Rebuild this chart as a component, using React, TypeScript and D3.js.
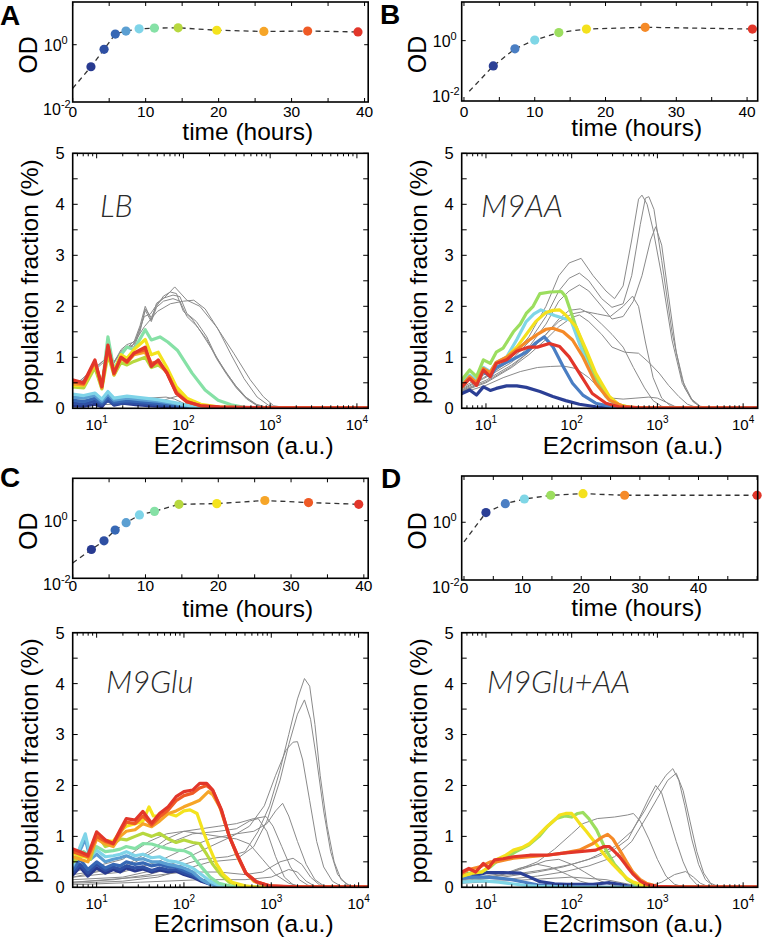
import React from "react";
import * as d3 from "d3";

type Pt = [number, number];

// ---------- growth curves: time (hours) and OD ----------
const lbTime = [2.5, 4.3, 5.84, 7.3, 9.1, 11.2, 14.45, 19.75, 26.2, 32.2, 39.1];
const lbOD = [0.17, 0.69, 2.36, 3.0, 3.6, 3.8, 3.9, 3.2, 2.9, 3.0, 2.8];
const lbOrigin = [0, 0.03];

const m9aaTime = [4.14, 7.2, 10.0, 13.4, 17.3, 25.6, 40.75];
const m9aaOD = [0.125, 0.51, 1.05, 1.95, 2.6, 3.0, 2.6];
const m9aaOrigin = [0.75, 0.0156];

const m9gluTime = [2.57, 4.3, 5.83, 7.34, 9.17, 11.24, 14.6, 19.8, 26.4, 32.4, 39.3];
const m9gluOD = [0.1, 0.2, 0.47, 0.85, 1.58, 2.1, 3.7, 3.9, 5.0, 4.25, 3.7];
const m9gluOrigin = [0, 0.034];

const m9gluaaTime = [3.75, 7.05, 10.3, 14.8, 20.3, 27.4, 50.0];
const m9gluaaOD = [2.16, 4.4, 6.4, 8.6, 9.8, 8.6, 8.6];
const m9gluaaOrigin = [0, 0.21];

const timeTickLabels = [0, 10, 20, 30, 40];
const fracTickLabels = [0, 1, 2, 3, 4, 5];
const e2Decades = [1, 2, 3, 4];

const pal11 = ["#283a90", "#2e4fa3", "#3768b5", "#5b9fd2", "#7fd4e8", "#86e1a6", "#b7d83f", "#f4e31d", "#f6a528", "#ef5a25", "#e2362a"];
const pal7 = ["#2b3f95", "#4a7ec3", "#7fd6e6", "#9cde5f", "#f4e11d", "#f58a28", "#e2362a"];

// ---------- histograms: [log10 E2crimson, population fraction %] ----------
const lbColored: Pt[][] = [
  [[0.72,0.05],[0.85,0.04],[0.98,0.08],[1.06,0.03],[1.13,0.18],[1.2,0.06],[1.3,0.1],[1.45,0.07],[1.6,0.05],[1.8,0.03],[2.0,0.01],[2.3,0],[4.13,0]],
  [[0.72,0.1],[0.85,0.08],[0.98,0.14],[1.06,0.07],[1.13,0.15],[1.2,0.08],[1.35,0.11],[1.5,0.09],[1.7,0.07],[1.9,0.04],[2.1,0.01],[2.4,0],[4.13,0]],
  [[0.72,0.16],[0.85,0.13],[0.98,0.2],[1.06,0.1],[1.13,0.22],[1.2,0.12],[1.35,0.15],[1.5,0.13],[1.7,0.1],[1.9,0.06],[2.1,0.02],[2.4,0],[4.13,0]],
  [[0.72,0.22],[0.85,0.2],[0.98,0.25],[1.06,0.14],[1.13,0.28],[1.2,0.16],[1.35,0.2],[1.5,0.17],[1.7,0.14],[1.9,0.09],[2.1,0.03],[2.4,0.01],[4.13,0]],
  [[0.72,0.28],[0.85,0.25],[0.98,0.3],[1.06,0.18],[1.13,0.33],[1.2,0.2],[1.35,0.24],[1.5,0.21],[1.7,0.17],[1.9,0.11],[2.1,0.04],[2.4,0.01],[4.13,0]],
  [[0.72,0.45],[0.85,0.42],[0.98,0.85],[1.06,0.4],[1.13,1.4],[1.2,0.75],[1.28,1.05],[1.35,1.2],[1.43,1.15],[1.56,1.54],[1.63,1.34],[1.73,1.4],[1.82,1.3],[1.93,1.14],[2.1,0.69],[2.25,0.36],[2.4,0.16],[2.55,0.07],[2.7,0.02],[2.9,0],[4.13,0]],
  [[0.72,0.42],[0.85,0.4],[0.98,0.8],[1.06,0.38],[1.13,1.05],[1.2,0.65],[1.28,0.9],[1.35,0.85],[1.43,0.92],[1.56,1.0],[1.63,0.8],[1.71,0.85],[1.81,0.72],[1.92,0.4],[2.04,0.18],[2.2,0.06],[2.4,0.02],[2.7,0],[4.13,0]],
  [[0.72,0.45],[0.85,0.45],[0.98,0.88],[1.06,0.45],[1.13,1.12],[1.2,0.72],[1.28,1.05],[1.35,0.98],[1.43,1.15],[1.56,1.35],[1.63,1.05],[1.71,1.1],[1.81,0.8],[1.92,0.42],[2.04,0.2],[2.2,0.08],[2.4,0.03],[2.7,0.01],[4.13,0]],
  [[0.72,0.48],[0.85,0.46],[0.98,0.9],[1.06,0.4],[1.13,1.18],[1.2,0.66],[1.28,0.98],[1.35,0.9],[1.43,1.05],[1.56,1.1],[1.63,0.85],[1.71,0.9],[1.81,0.7],[1.92,0.32],[2.04,0.14],[2.2,0.05],[2.4,0.02],[2.7,0.01],[4.13,0]],
  [[0.72,0.52],[0.85,0.48],[0.98,0.92],[1.06,0.43],[1.13,1.2],[1.2,0.68],[1.28,1.0],[1.35,0.9],[1.43,1.08],[1.56,1.15],[1.63,0.88],[1.71,0.92],[1.81,0.7],[1.92,0.3],[2.04,0.13],[2.2,0.05],[2.4,0.02],[2.7,0.01],[4.13,0]],
  [[0.72,0.56],[0.85,0.5],[0.98,0.95],[1.06,0.42],[1.13,1.24],[1.2,0.69],[1.28,1.0],[1.35,0.92],[1.43,1.08],[1.56,1.2],[1.63,0.82],[1.71,0.95],[1.81,0.69],[1.92,0.29],[2.04,0.13],[2.2,0.05],[2.42,0.03],[2.96,0.01],[4.13,0.01]],
];
const lbGray: Pt[][] = [
  [[0.72,0.4],[0.98,0.8],[1.13,1.0],[1.2,0.9],[1.28,1.15],[1.35,1.25],[1.43,1.3],[1.5,1.62],[1.56,2.0],[1.63,1.73],[1.69,2.06],[1.77,2.16],[1.88,2.22],[1.96,2.19],[2.04,1.86],[2.15,1.7],[2.27,1.4],[2.38,1.0],[2.5,0.69],[2.61,0.42],[2.73,0.2],[2.84,0.07],[2.96,0.01],[4.13,0]],
  [[0.72,0.42],[0.98,0.78],[1.13,1.02],[1.2,0.92],[1.28,1.1],[1.35,1.2],[1.43,1.25],[1.5,1.55],[1.56,1.92],[1.63,1.7],[1.69,1.98],[1.77,2.1],[1.88,2.15],[1.96,2.1],[2.04,1.8],[2.15,1.62],[2.27,1.35],[2.38,0.98],[2.5,0.66],[2.61,0.4],[2.73,0.18],[2.84,0.06],[2.96,0.01],[4.13,0]],
  [[0.72,0.38],[0.98,0.75],[1.13,0.98],[1.2,0.88],[1.28,1.12],[1.35,1.22],[1.43,1.2],[1.5,1.5],[1.56,1.95],[1.63,1.78],[1.69,2.0],[1.77,2.2],[1.85,2.28],[1.92,2.25],[2.0,1.9],[2.1,1.75],[2.2,1.5],[2.35,1.1],[2.47,0.75],[2.6,0.45],[2.72,0.22],[2.84,0.08],[2.96,0.02],[4.13,0]],
  [[1.3,1.1],[1.45,1.35],[1.55,1.8],[1.62,1.85],[1.7,2.05],[1.8,2.2],[1.9,2.38],[2.04,2.12],[2.19,2.0],[2.38,1.6],[2.58,1.08],[2.77,0.56],[2.92,0.23],[3.04,0.05],[3.2,0.01],[4.13,0]],
  [[1.4,1.2],[1.55,1.6],[1.7,1.9],[1.85,2.05],[2.0,2.1],[2.12,2.12],[2.25,1.95],[2.4,1.55],[2.55,1.05],[2.7,0.58],[2.85,0.22],[2.98,0.06],[3.1,0.01],[4.13,0]],
  [[0.72,0.15],[1.0,0.18],[1.3,0.2],[1.6,0.2],[1.8,0.22],[1.9,0.18],[2.0,0.1],[2.2,0.03],[2.5,0],[4.13,0]],
  [[0.72,0.1],[1.0,0.12],[1.4,0.12],[1.7,0.12],[1.85,0.2],[1.95,0.25],[2.05,0.15],[2.2,0.05],[2.4,0.01],[4.13,0]],
  [[0.72,0.05],[1.2,0.08],[1.6,0.1],[1.9,0.08],[2.1,0.03],[2.4,0],[4.13,0]],
];

const m9aaColored: Pt[][] = [
  [[0.72,0.29],[0.81,0.36],[0.89,0.26],[0.97,0.42],[1.05,0.35],[1.12,0.39],[1.24,0.44],[1.36,0.44],[1.47,0.41],[1.63,0.33],[1.78,0.23],[1.93,0.15],[2.09,0.08],[2.28,0.03],[2.47,0.01],[4.17,0.01]],
  [[0.72,0.45],[0.81,0.6],[0.89,0.5],[0.97,0.72],[1.05,0.62],[1.12,0.8],[1.24,0.9],[1.36,1.0],[1.47,1.1],[1.58,1.28],[1.68,1.4],[1.78,1.21],[1.9,0.82],[2.01,0.49],[2.13,0.26],[2.28,0.1],[2.47,0.03],[2.7,0.01],[4.17,0]],
  [[0.72,0.5],[0.81,0.65],[0.89,0.55],[0.97,0.8],[1.05,0.72],[1.12,0.9],[1.24,1.0],[1.36,1.35],[1.47,1.7],[1.56,1.85],[1.64,1.93],[1.8,1.82],[1.93,1.75],[1.99,1.73],[2.09,1.27],[2.17,0.95],[2.28,0.56],[2.4,0.23],[2.51,0.07],[2.7,0.01],[4.17,0]],
  [[0.72,0.56],[0.81,0.75],[0.89,0.62],[0.97,0.95],[1.05,0.88],[1.12,1.1],[1.2,1.18],[1.32,1.5],[1.4,1.65],[1.47,1.86],[1.55,2.0],[1.63,2.25],[1.75,2.28],[1.88,2.29],[1.93,2.19],[2.05,1.6],[2.17,1.08],[2.28,0.62],[2.4,0.26],[2.55,0.07],[2.7,0.01],[4.17,0]],
  [[0.72,0.42],[0.81,0.6],[0.89,0.5],[0.97,0.75],[1.05,0.7],[1.12,0.88],[1.24,1.0],[1.36,1.2],[1.47,1.45],[1.58,1.7],[1.7,1.88],[1.78,1.92],[1.86,1.93],[1.93,1.83],[2.05,1.6],[2.17,1.14],[2.28,0.69],[2.44,0.23],[2.55,0.07],[2.7,0.01],[4.17,0]],
  [[0.72,0.45],[0.81,0.62],[0.89,0.5],[0.97,0.78],[1.05,0.7],[1.12,0.9],[1.24,1.0],[1.36,1.15],[1.47,1.3],[1.6,1.45],[1.7,1.55],[1.78,1.57],[1.9,1.5],[2.01,1.34],[2.13,1.01],[2.28,0.49],[2.44,0.16],[2.6,0.04],[2.8,0.01],[4.17,0]],
  [[0.72,0.42],[0.81,0.58],[0.89,0.45],[0.97,0.75],[1.05,0.62],[1.12,0.88],[1.24,0.95],[1.36,1.12],[1.5,1.2],[1.6,1.2],[1.74,1.27],[1.86,1.21],[1.97,1.01],[2.09,0.69],[2.24,0.29],[2.4,0.1],[2.55,0.03],[2.8,0.01],[4.17,0.01]],
];
const m9aaGray: Pt[][] = [
  [[0.72,0.4],[0.97,0.65],[1.12,0.8],[1.3,1.0],[1.5,1.4],[1.7,2.0],[1.85,2.6],[1.97,2.85],[2.11,2.94],[2.25,2.6],[2.4,2.3],[2.5,2.15],[2.6,2.4],[2.7,3.3],[2.78,4.1],[2.82,4.18],[2.88,4.0],[2.95,3.5],[3.05,2.6],[3.17,1.34],[3.29,0.49],[3.4,0.16],[3.5,0.03],[3.7,0],[4.17,0]],
  [[0.72,0.38],[0.97,0.6],[1.12,0.75],[1.3,0.95],[1.5,1.3],[1.7,1.8],[1.85,2.3],[1.97,2.55],[2.09,2.65],[2.2,2.5],[2.35,2.15],[2.47,1.98],[2.6,2.05],[2.7,2.6],[2.8,3.6],[2.86,4.12],[2.9,4.15],[2.96,3.9],[3.05,2.9],[3.17,1.5],[3.29,0.55],[3.4,0.18],[3.5,0.04],[3.7,0],[4.17,0]],
  [[0.72,0.36],[0.97,0.58],[1.12,0.72],[1.3,0.9],[1.5,1.2],[1.7,1.65],[1.85,2.1],[1.97,2.3],[2.09,2.42],[2.2,2.3],[2.35,2.0],[2.47,1.75],[2.6,1.8],[2.72,2.1],[2.82,2.6],[2.92,3.3],[2.98,3.56],[3.05,3.2],[3.13,2.2],[3.22,1.1],[3.32,0.4],[3.42,0.12],[3.52,0.02],[3.7,0],[4.17,0]],
  [[0.72,0.35],[1.0,0.55],[1.3,0.85],[1.5,1.1],[1.7,1.45],[1.85,1.7],[2.0,1.85],[2.15,1.9],[2.3,1.85],[2.45,1.8],[2.6,2.0],[2.71,2.2],[2.78,2.0],[2.86,1.3],[2.95,0.6],[3.05,0.2],[3.15,0.05],[3.3,0],[4.17,0]],
  [[0.72,0.33],[1.0,0.5],[1.3,0.8],[1.5,1.05],[1.7,1.35],[1.85,1.6],[2.0,1.78],[2.09,1.83],[2.2,1.7],[2.35,1.45],[2.47,1.2],[2.62,1.1],[2.78,1.08],[2.9,0.9],[3.02,0.69],[3.13,0.45],[3.25,0.23],[3.35,0.08],[3.45,0.02],[3.6,0],[4.17,0]],
  [[0.72,0.34],[1.0,0.52],[1.3,0.82],[1.5,1.1],[1.7,1.45],[1.85,1.75],[1.97,1.92],[2.1,1.95],[2.22,1.85],[2.35,1.65],[2.47,1.45],[2.6,1.2],[2.72,0.8],[2.85,0.4],[2.95,0.15],[3.05,0.04],[3.2,0],[4.17,0]],
  [[0.72,0.3],[1.0,0.45],[1.2,0.6],[1.4,0.72],[1.6,0.8],[1.75,0.82],[1.9,0.83],[2.05,0.78],[2.2,0.6],[2.35,0.35],[2.47,0.2],[2.6,0.18],[2.75,0.2],[2.9,0.22],[3.0,0.2],[3.1,0.12],[3.2,0.04],[3.3,0.01],[4.17,0]],
];

const m9gluColored: Pt[][] = [
  [[0.73,0.25],[0.81,0.4],[0.9,0.22],[1.0,0.38],[1.1,0.28],[1.19,0.35],[1.27,0.3],[1.34,0.38],[1.44,0.32],[1.53,0.36],[1.63,0.3],[1.72,0.34],[1.82,0.3],[1.91,0.32],[2.0,0.25],[2.1,0.2],[2.2,0.12],[2.3,0.06],[2.4,0.02],[2.6,0],[4.12,0]],
  [[0.73,0.3],[0.81,0.45],[0.9,0.28],[1.0,0.45],[1.1,0.33],[1.19,0.4],[1.27,0.35],[1.34,0.42],[1.44,0.38],[1.53,0.4],[1.63,0.33],[1.72,0.38],[1.82,0.34],[1.91,0.35],[2.0,0.28],[2.1,0.22],[2.2,0.14],[2.3,0.07],[2.4,0.02],[2.6,0],[4.12,0]],
  [[0.73,0.35],[0.81,0.55],[0.9,0.35],[1.0,0.5],[1.1,0.38],[1.19,0.45],[1.27,0.42],[1.34,0.5],[1.44,0.45],[1.53,0.48],[1.63,0.42],[1.72,0.45],[1.82,0.4],[1.91,0.4],[2.0,0.33],[2.1,0.26],[2.2,0.15],[2.3,0.07],[2.4,0.02],[2.6,0],[4.12,0]],
  [[0.73,0.42],[0.87,0.95],[0.93,0.55],[1.0,0.65],[1.1,0.5],[1.19,0.55],[1.27,0.58],[1.34,0.62],[1.44,0.55],[1.53,0.56],[1.63,0.5],[1.72,0.5],[1.82,0.45],[1.91,0.42],[2.0,0.38],[2.1,0.3],[2.2,0.15],[2.3,0.06],[2.45,0.01],[2.6,0],[4.12,0]],
  [[0.73,0.45],[0.87,1.05],[0.93,0.6],[1.0,0.73],[1.1,0.6],[1.19,0.62],[1.27,0.65],[1.34,0.7],[1.44,0.62],[1.53,0.65],[1.63,0.58],[1.72,0.6],[1.82,0.52],[1.91,0.5],[2.0,0.45],[2.1,0.38],[2.2,0.25],[2.3,0.12],[2.4,0.04],[2.55,0.01],[4.12,0]],
  [[0.73,0.55],[0.85,0.7],[0.93,0.6],[1.0,0.8],[1.1,0.7],[1.19,0.72],[1.27,0.75],[1.34,0.8],[1.44,0.76],[1.53,0.86],[1.63,0.85],[1.72,0.8],[1.82,0.76],[1.91,0.73],[2.0,0.72],[2.08,0.66],[2.15,0.5],[2.3,0.2],[2.4,0.08],[2.55,0.02],[2.7,0],[4.12,0]],
  [[0.73,0.5],[0.85,0.65],[0.93,0.55],[1.0,1.05],[1.1,0.8],[1.19,0.85],[1.27,0.95],[1.34,0.93],[1.44,1.0],[1.53,1.06],[1.63,1.0],[1.72,1.06],[1.82,0.95],[1.91,0.88],[2.0,0.93],[2.1,0.88],[2.18,0.86],[2.26,0.65],[2.33,0.45],[2.42,0.25],[2.52,0.1],[2.65,0.03],[2.8,0],[4.12,0]],
  [[0.73,0.67],[0.81,0.62],[0.9,0.58],[1.0,1.05],[1.1,0.92],[1.19,0.9],[1.27,1.1],[1.34,1.2],[1.44,1.25],[1.53,1.3],[1.6,1.58],[1.65,1.4],[1.72,1.4],[1.82,1.45],[1.91,1.4],[2.0,1.5],[2.07,1.52],[2.15,1.45],[2.22,1.1],[2.3,0.75],[2.37,0.47],[2.45,0.25],[2.55,0.1],[2.7,0.03],[2.85,0],[4.12,0]],
  [[0.73,0.6],[0.81,0.55],[0.9,0.5],[1.0,0.95],[1.1,0.85],[1.19,0.8],[1.27,1.0],[1.34,1.1],[1.44,1.13],[1.53,1.25],[1.63,1.19],[1.72,1.3],[1.82,1.45],[1.91,1.5],[2.0,1.58],[2.1,1.65],[2.18,1.71],[2.28,1.88],[2.33,1.82],[2.41,1.58],[2.5,1.1],[2.6,0.65],[2.7,0.3],[2.8,0.12],[2.95,0.03],[3.1,0.01],[4.12,0]],
  [[0.73,0.7],[0.81,0.65],[0.9,0.6],[1.0,1.0],[1.1,0.9],[1.19,0.85],[1.27,1.08],[1.34,1.28],[1.44,1.25],[1.53,1.4],[1.63,1.22],[1.72,1.38],[1.82,1.52],[1.91,1.7],[2.0,1.8],[2.1,1.85],[2.18,1.95],[2.26,2.0],[2.33,1.9],[2.43,1.5],[2.52,1.0],[2.62,0.6],[2.71,0.28],[2.83,0.11],[2.98,0.03],[3.2,0.01],[4.12,0]],
  [[0.73,0.75],[0.81,0.7],[0.9,0.63],[1.0,1.09],[1.1,0.93],[1.19,0.86],[1.27,1.13],[1.34,1.35],[1.44,1.32],[1.53,1.49],[1.63,1.26],[1.72,1.45],[1.82,1.58],[1.91,1.78],[2.0,1.88],[2.1,1.91],[2.18,2.04],[2.26,2.04],[2.33,1.91],[2.43,1.52],[2.52,0.99],[2.62,0.6],[2.71,0.27],[2.83,0.11],[2.98,0.03],[3.3,0.01],[4.12,0.01]],
];
const m9gluGray: Pt[][] = [
  [[0.73,0.1],[1.2,0.15],[1.6,0.25],[1.9,0.4],[2.2,0.55],[2.5,0.6],[2.7,0.7],[2.85,1.1],[2.98,1.6],[3.1,2.3],[3.2,3.0],[3.3,3.7],[3.38,4.1],[3.44,3.95],[3.5,3.2],[3.56,2.2],[3.64,1.2],[3.72,0.5],[3.8,0.15],[3.9,0.03],[4.0,0],[4.12,0]],
  [[0.73,0.08],[1.3,0.12],[1.7,0.2],[2.0,0.35],[2.3,0.5],[2.6,0.55],[2.8,0.8],[2.95,1.3],[3.1,2.1],[3.2,2.8],[3.3,3.4],[3.38,3.68],[3.45,3.3],[3.52,2.5],[3.6,1.5],[3.68,0.7],[3.76,0.25],[3.86,0.06],[3.95,0],[4.12,0]],
  [[0.73,0.15],[1.3,0.2],[1.7,0.35],[2.0,0.55],[2.3,0.8],[2.55,1.0],[2.75,1.2],[2.92,1.6],[3.05,2.2],[3.17,2.7],[3.25,2.85],[3.3,2.86],[3.36,2.5],[3.44,1.7],[3.52,0.9],[3.6,0.4],[3.7,0.12],[3.8,0.02],[3.9,0],[4.12,0]],
  [[0.73,0.2],[1.3,0.3],[1.7,0.5],[2.0,0.75],[2.3,0.95],[2.6,1.05],[2.8,1.1],[2.95,1.25],[3.05,1.5],[3.13,1.65],[3.2,1.4],[3.3,0.9],[3.4,0.45],[3.5,0.15],[3.6,0.03],[3.7,0],[4.12,0]],
  [[0.73,0.25],[1.3,0.4],[1.6,0.7],[1.8,0.95],[2.0,1.1],[2.2,1.15],[2.4,1.2],[2.6,1.25],[2.8,1.35],[2.94,1.39],[3.02,1.2],[3.12,0.8],[3.22,0.4],[3.32,0.15],[3.42,0.04],[3.55,0],[4.12,0]],
  [[0.73,0.3],[1.3,0.55],[1.6,0.9],[1.8,1.05],[2.0,1.1],[2.2,1.05],[2.4,1.0],[2.6,0.95],[2.75,0.85],[2.9,0.55],[3.05,0.25],[3.2,0.08],[3.35,0.01],[4.12,0]],
  [[0.73,0.1],[1.5,0.2],[2.0,0.3],[2.4,0.3],[2.7,0.25],[2.9,0.3],[3.1,0.5],[3.25,0.57],[3.35,0.45],[3.45,0.2],[3.55,0.05],[3.7,0],[4.12,0]],
  [[0.73,0.05],[1.5,0.1],[2.2,0.15],[2.7,0.15],[3.0,0.2],[3.2,0.35],[3.3,0.3],[3.4,0.12],[3.5,0.02],[3.6,0],[4.12,0]],
  [[0.73,0.2],[1.4,0.45],[1.8,0.85],[2.1,1.05],[2.4,1.1],[2.6,1.15],[2.75,1.3],[2.85,1.35],[2.95,1.1],[3.05,0.6],[3.15,0.2],[3.25,0.05],[3.35,0],[4.12,0]],
];

const m9gluaaColored: Pt[][] = [
  [[0.72,0.24],[0.8,0.27],[0.9,0.24],[1.01,0.29],[1.2,0.29],[1.4,0.28],[1.51,0.2],[1.63,0.11],[1.8,0.07],[1.94,0.06],[2.1,0.06],[2.25,0.06],[2.44,0.09],[2.56,0.06],[2.71,0.01],[2.9,0],[4.17,0]],
  [[0.72,0.18],[0.85,0.2],[1.0,0.2],[1.15,0.18],[1.3,0.15],[1.45,0.1],[1.6,0.05],[1.8,0.02],[2.0,0.01],[2.3,0],[4.17,0]],
  [[0.72,0.1],[0.85,0.12],[1.0,0.12],[1.15,0.1],[1.3,0.07],[1.45,0.04],[1.6,0.02],[1.8,0.01],[2.0,0],[4.17,0]],
  [[0.72,0.22],[0.85,0.3],[0.95,0.3],[1.05,0.4],[1.12,0.5],[1.25,0.6],[1.35,0.7],[1.5,0.83],[1.62,1.0],[1.72,1.2],[1.82,1.35],[1.92,1.4],[2.0,1.38],[2.07,1.45],[2.13,1.47],[2.2,1.35],[2.29,1.13],[2.4,0.73],[2.5,0.45],[2.56,0.34],[2.65,0.15],[2.75,0.05],[2.9,0.01],[4.17,0]],
  [[0.72,0.22],[0.85,0.28],[0.95,0.3],[1.05,0.42],[1.12,0.54],[1.22,0.62],[1.32,0.73],[1.42,0.78],[1.51,0.86],[1.61,1.02],[1.71,1.19],[1.8,1.32],[1.86,1.42],[1.93,1.45],[2.0,1.45],[2.05,1.35],[2.09,1.26],[2.17,1.1],[2.25,0.93],[2.33,0.75],[2.4,0.6],[2.48,0.45],[2.56,0.31],[2.65,0.17],[2.71,0.11],[2.87,0.02],[3.0,0],[4.17,0]],
  [[0.72,0.27],[0.8,0.35],[0.93,0.4],[1.05,0.5],[1.12,0.5],[1.32,0.57],[1.51,0.6],[1.71,0.63],[1.9,0.67],[2.09,0.73],[2.25,0.86],[2.35,0.98],[2.42,1.04],[2.48,0.95],[2.56,0.73],[2.64,0.5],[2.71,0.31],[2.8,0.15],[2.87,0.08],[3.0,0.02],[3.1,0],[4.17,0]],
  [[0.72,0.3],[0.8,0.37],[0.88,0.3],[0.97,0.47],[1.03,0.38],[1.1,0.54],[1.2,0.56],[1.32,0.6],[1.51,0.63],[1.71,0.63],[1.9,0.67],[2.09,0.7],[2.28,0.73],[2.38,0.8],[2.44,0.8],[2.5,0.7],[2.56,0.6],[2.64,0.42],[2.71,0.27],[2.8,0.12],[2.87,0.06],[3.0,0.02],[3.2,0.01],[4.17,0.01]],
];
const m9gluaaGray: Pt[][] = [
  [[0.72,0.12],[1.2,0.2],[1.6,0.3],[1.9,0.4],[2.2,0.55],[2.5,0.8],[2.7,1.1],[2.85,1.5],[2.98,1.9],[3.1,2.2],[3.18,2.33],[3.25,2.1],[3.32,1.6],[3.4,0.95],[3.48,0.45],[3.56,0.15],[3.65,0.03],[3.8,0],[4.17,0]],
  [[0.72,0.1],[1.2,0.15],[1.6,0.22],[1.9,0.3],[2.2,0.42],[2.5,0.6],[2.7,0.9],[2.88,1.4],[3.0,1.75],[3.12,2.1],[3.22,2.24],[3.3,1.9],[3.38,1.3],[3.46,0.7],[3.54,0.28],[3.62,0.08],[3.72,0.01],[3.85,0],[4.17,0]],
  [[0.72,0.15],[1.3,0.25],[1.7,0.35],[2.0,0.45],[2.3,0.6],[2.5,0.75],[2.66,0.95],[2.8,1.4],[2.9,1.75],[2.98,2.0],[3.05,1.85],[3.13,1.4],[3.22,0.9],[3.3,0.5],[3.38,0.2],[3.46,0.05],[3.55,0],[4.17,0]],
  [[0.72,0.15],[1.3,0.3],[1.6,0.5],[1.8,0.75],[2.0,1.05],[2.13,1.25],[2.3,1.35],[2.5,1.38],[2.65,1.42],[2.72,1.45],[2.8,1.3],[2.9,0.95],[3.0,0.55],[3.1,0.22],[3.2,0.06],[3.3,0.01],[3.4,0],[4.17,0]],
  [[0.72,0.08],[1.5,0.15],[2.0,0.2],[2.4,0.15],[2.7,0.05],[2.9,0.02],[3.05,0.1],[3.2,0.25],[3.33,0.31],[3.42,0.2],[3.5,0.08],[3.6,0.01],[3.7,0],[4.17,0]],
  [[0.72,0.12],[1.2,0.25],[1.5,0.4],[1.7,0.52],[1.85,0.55],[2.0,0.45],[2.15,0.3],[2.3,0.15],[2.45,0.05],[2.6,0.01],[2.8,0],[4.17,0]],
  [[0.72,0.1],[1.1,0.2],[1.4,0.38],[1.6,0.45],[1.75,0.4],[1.95,0.25],[2.1,0.12],[2.3,0.03],[2.5,0],[4.17,0]],
];

const FONT = "'Liberation Sans', Arial, Helvetica, sans-serif";

function GrowthPanel(p: {
  x0: number; x1: number; y0: number; y1: number;
  tDom: [number, number]; odDom: [number, number];
  times: number[]; ods: number[]; origin: number[]; colors: string[];
  lowDy: number; xLabBase: number; timeBase: number;
  letter: string; letterX: number; letterY: number;
}) {
  const x = d3.scaleLinear().domain(p.tDom).range([p.x0, p.x1]);
  const y = d3.scaleLog().domain(p.odDom).range([p.y1, p.y0]);
  const pts: Pt[] = [[p.origin[0], p.origin[1]], ...p.times.map((t, i) => [t, p.ods[i]] as Pt)];
  const line = d3.line<Pt>().x((d) => x(d[0])).y((d) => y(d[1]));
  const ticks = d3.range(0, p.tDom[1] + 0.01, 5);
  const midY = (p.y0 + p.y1) / 2;
  return (
    <g fontFamily={FONT}>
      <text x={p.letterX} y={p.letterY} fontSize={28} fontWeight="bold">{p.letter}</text>
      <path d={line(pts) || ""} fill="none" stroke="#333" strokeWidth={1.3} strokeDasharray="5,4" />
      {pts.slice(1).map((d, i) => (
        <circle key={i} cx={x(d[0])} cy={y(d[1])} r={4.6} fill={p.colors[i]} />
      ))}
      {ticks.map((t) => (
        <g key={t}>
          <line x1={x(t)} x2={x(t)} y1={p.y1} y2={p.y1 - 4} stroke="#000" strokeWidth={1} />
          <line x1={x(t)} x2={x(t)} y1={p.y0} y2={p.y0 + 4} stroke="#000" strokeWidth={1} />
        </g>
      ))}
      <line x1={p.x0} x2={p.x0 + 4} y1={y(1)} y2={y(1)} stroke="#000" />
      <line x1={p.x1 - 4} x2={p.x1} y1={y(1)} y2={y(1)} stroke="#000" />
      <rect x={p.x0} y={p.y0} width={p.x1 - p.x0} height={p.y1 - p.y0} fill="none" stroke="#000" strokeWidth={1.6} />
      {timeTickLabels.map((t) => (
        <text key={t} x={x(t)} y={p.xLabBase} fontSize={15.5} textAnchor="middle">{t}</text>
      ))}
      <text x={p.x0 - 5} y={y(1) + 6} fontSize={16} textAnchor="end">
        10<tspan dy={-7} fontSize={11}>0</tspan>
      </text>
      <text x={p.x0 - 2} y={y(0.01) + p.lowDy} fontSize={16} textAnchor="end">
        10<tspan dy={-7} fontSize={11}>-2</tspan>
      </text>
      <text transform={`translate(${p.x0 - 44},${midY + 3}) rotate(-90)`} fontSize={25} textAnchor="middle" dy="0.35em">OD</text>
      <text x={p.x0 + 175} y={p.timeBase} fontSize={24.5} textAnchor="middle">time (hours)</text>
    </g>
  );
}

function HistPanel(p: {
  id: string; x0: number; x1: number; y0: number; y1: number;
  lxDom: [number, number]; grays: Pt[][]; colored: Pt[][]; colors: string[];
  name: string; nameX: number; nameY: number; e2Base: number;
}) {
  const x = d3.scaleLog().domain([Math.pow(10, p.lxDom[0]), Math.pow(10, p.lxDom[1])]).range([p.x0, p.x1]);
  const y = d3.scaleLinear().domain([0, 5]).range([p.y1, p.y0]);
  const line = d3.line<Pt>().x((d) => x(Math.pow(10, d[0]))).y((d) => y(d[1]));
  const minor: number[] = [];
  for (let k = 0; k <= 4; k++) for (let m = 1; m <= 9; m++) {
    const v = m * Math.pow(10, k);
    if (Math.log10(v) > p.lxDom[0] && Math.log10(v) < p.lxDom[1]) minor.push(v);
  }
  const yt = d3.range(0, 5.01, 0.5);
  const midY = (p.y0 + p.y1) / 2;
  return (
    <g fontFamily={FONT}>
      <defs>
        <clipPath id={p.id}>
          <rect x={p.x0} y={p.y0} width={p.x1 - p.x0} height={p.y1 - p.y0} />
        </clipPath>
      </defs>
      <g clipPath={`url(#${p.id})`}>
        {p.grays.map((c, i) => (
          <path key={"g" + i} d={line(c) || ""} fill="none" stroke="#8a8a8a" strokeWidth={1} strokeLinejoin="round" />
        ))}
        {p.colored.map((c, i) => (
          <path key={"c" + i} d={line(c) || ""} fill="none" stroke={p.colors[i]} strokeWidth={3.2} strokeLinejoin="round" strokeLinecap="round" />
        ))}
      </g>
      {minor.map((v) => {
        const big = Math.abs(Math.log10(v) - Math.round(Math.log10(v))) < 1e-9;
        const L = big ? 5 : 3;
        return (
          <g key={v}>
            <line x1={x(v)} x2={x(v)} y1={p.y1} y2={p.y1 - L} stroke="#000" />
            <line x1={x(v)} x2={x(v)} y1={p.y0} y2={p.y0 + L} stroke="#000" />
          </g>
        );
      })}
      {yt.map((v) => (
        <g key={v}>
          <line x1={p.x0} x2={p.x0 + 5} y1={y(v)} y2={y(v)} stroke="#000" />
          <line x1={p.x1 - 5} x2={p.x1} y1={y(v)} y2={y(v)} stroke="#000" />
        </g>
      ))}
      <rect x={p.x0} y={p.y0} width={p.x1 - p.x0} height={p.y1 - p.y0} fill="none" stroke="#000" strokeWidth={1.6} />
      {fracTickLabels.map((v) => (
        <text key={v} x={p.x0 - 8} y={y(v)} dy="0.36em" fontSize={16.5} textAnchor="end">{v}</text>
      ))}
      {e2Decades.map((k) => (
        <text key={k} x={x(Math.pow(10, k))} y={p.y1 + 22} fontSize={15} textAnchor="middle">
          10<tspan dy={-7} fontSize={10}>{k}</tspan>
        </text>
      ))}
      <text transform={`translate(${p.x0 - 43},${midY + 1}) rotate(-90)`} fontSize={24.5} textAnchor="middle" dy="0.35em">population fraction (%)</text>
      <text x={p.x0 + 171} y={p.e2Base} fontSize={24.5} textAnchor="middle">E2crimson (a.u.)</text>
      <text x={p.nameX} y={p.nameY} fontSize={31} fontStyle="italic" fontWeight={300} fill="#2a2a2a" fontFamily="Lato, 'Open Sans', sans-serif">{p.name}</text>
    </g>
  );
}

export default function App() {
  const L0 = 72.7, L1 = 368.2, R0 = 461.7, R1 = 757.7;
  return (
    <svg width={763} height={942} style={{ position: "absolute", left: 0, top: 0, background: "#fff" }}>
      <rect width={763} height={942} fill="#fff" />
      <GrowthPanel x0={L0} x1={L1} y0={2} y1={102} tDom={[0, 40.5]} odDom={[0.01, 31]}
        times={lbTime} ods={lbOD} origin={lbOrigin} colors={pal11}
        lowDy={13} xLabBase={117} timeBase={140} letter="A" letterX={0} letterY={25} />
      <GrowthPanel x0={R0} x1={R1} y0={2} y1={101} tDom={[-0.32, 41.5]} odDom={[0.007, 24]}
        times={m9aaTime} ods={m9aaOD} origin={m9aaOrigin} colors={pal7}
        lowDy={5} xLabBase={117} timeBase={136} letter="B" letterX={380} letterY={24} />
      <GrowthPanel x0={L0} x1={L1} y0={478.3} y1={578.3} tDom={[0, 40.6]} odDom={[0.01, 29.5]}
        times={m9gluTime} ods={m9gluOD} origin={m9gluOrigin} colors={pal11}
        lowDy={12} xLabBase={591} timeBase={617} letter="C" letterX={0} letterY={487} />
      <GrowthPanel x0={R0} x1={R1} y0={476} y1={580} tDom={[-0.39, 50.1]} odDom={[0.01, 40]}
        times={m9gluaaTime} ods={m9gluaaOD} origin={m9gluaaOrigin} colors={pal7}
        lowDy={13} xLabBase={593} timeBase={616} letter="D" letterX={381} letterY={488} />

      <HistPanel id="hA" x0={L0} x1={L1} y0={153.3} y1={408.3} lxDom={[0.724, 4.13]}
        grays={lbGray} colored={lbColored} colors={pal11} name="LB" nameX={100} nameY={217} e2Base={454} />
      <HistPanel id="hB" x0={R0} x1={R1} y0={153.3} y1={408.3} lxDom={[0.717, 4.17]}
        grays={m9aaGray} colored={m9aaColored} colors={pal7} name="M9AA" nameX={481} nameY={217} e2Base={454} />
      <HistPanel id="hC" x0={L0} x1={L1} y0={632.7} y1={887.3} lxDom={[0.726, 4.11]}
        grays={m9gluGray} colored={m9gluColored} colors={pal11} name="M9Glu" nameX={106} nameY={693} e2Base={932} />
      <HistPanel id="hD" x0={R0} x1={R1} y0={632.7} y1={887.3} lxDom={[0.717, 4.17]}
        grays={m9gluaaGray} colored={m9gluaaColored} colors={pal7} name="M9Glu+AA" nameX={487} nameY={693} e2Base={932} />
    </svg>
  );
}
